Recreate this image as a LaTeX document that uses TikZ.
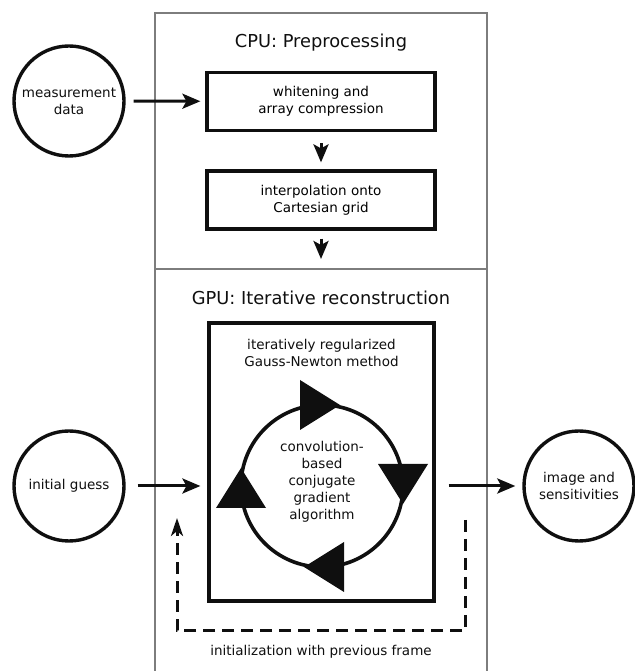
\documentclass[tikz,border=0pt]{standalone}
\usepackage{fontspec}
\setmainfont{DejaVu Sans}
\usepackage{tikz}
\usetikzlibrary{arrows.meta,calc,positioning,shapes.geometric}
\definecolor{framegray}{RGB}{125,125,125}
\definecolor{ink}{RGB}{15,15,15}
\newcommand{\lbl}{\fontsize{13.5}{17}\selectfont}
\newcommand{\ttl}{\fontsize{17.8}{21}\selectfont}

\begin{document}
\begin{tikzpicture}[x=1pt, y=1pt,
  stage/.style={draw=framegray, line width=2.8pt},
  proc/.style={draw=ink, line width=3.2pt, minimum width=228pt, minimum height=58pt,
    align=center, font=\lbl, inner sep=0pt},
  io/.style={ellipse, draw=ink, line width=3.4pt, minimum width=110pt, minimum height=110pt, inner sep=0pt},
  flow/.style={-{Stealth[length=18pt, width=15pt, inset=4pt]}, draw=ink, line width=3pt},
  loopdash/.style={draw=ink, line width=3pt, dash pattern=on 12pt off 7pt,
    -{Stealth[length=18pt, width=12pt, inset=5pt]}},
  ttlnode/.style={font=\ttl, text=ink},
  txt/.style={font=\lbl, text=ink, align=center}]
  \useasboundingbox (0,0) rectangle (634,671);
  \draw[stage] (155,402) rectangle (487,658);
  \draw[stage] (155,-20) rectangle (487,402);
  \node[ttlnode] (cputitle) at (321,628) {CPU: Preprocessing};
  \node[ttlnode] (gputitle) at (321,373) {GPU: Iterative reconstruction};

  \node[io, label={[txt]center:measurement\\data}] (meas) at (69,570) {};
  \node[proc] (white) at (321,569.5) {whitening and\\array compression};
  \node[proc] (interp) at (321,471) {interpolation onto\\Cartesian grid};
  \coordinate (cpuout) at (321,412);
  \draw[flow, shorten <=8pt, shorten >=5pt] (meas) -- (white);
  \draw[flow, shorten <=11pt, shorten >=7pt] (white) -- (interp);
  \draw[flow, shorten <=8pt] (interp) -- (cpuout);

  \node[draw=ink, line width=3.2pt, minimum width=225pt, minimum height=278pt] (gn) at (321.5,209) {};
  \node[txt] (gntext) at (321.5,318.5) {iteratively regularized\\Gauss-Newton method};
  \coordinate (C) at (322,185);
  \draw[ink, line width=3.6pt] (C) circle (81);
  \foreach \a in {0,-90,-180,-270}
    \fill[ink, shift={(C)}, rotate=\a] (-22,56) -- (-22,106) -- (18,81) -- cycle;
  \node[txt] (cgtext) at (322,189) {convolution-\\based\\conjugate\\gradient\\algorithm};

  \node[io, label={[txt]center:initial guess}] (guess) at (69,185) {};
  \node[io, label={[txt]center:image and\\sensitivities}] (result) at (579,185) {};
  \draw[flow, shorten <=12pt, shorten >=7pt] (guess.east) -- (guess.east -| gn.west);
  \draw[flow, shorten <=13pt, shorten >=7pt] (gn.east |- result.west) -- (result.west);

  \coordinate (fbstart) at (465,151);
  \coordinate (fbbase) at (321,40);
  \coordinate (fbend) at (177,153);
  \draw[loopdash] (fbstart) |- (fbbase) -| (fbend);
  \node[txt] (inittext) at (321,19) {initialization with previous frame};
\end{tikzpicture}
\end{document}
